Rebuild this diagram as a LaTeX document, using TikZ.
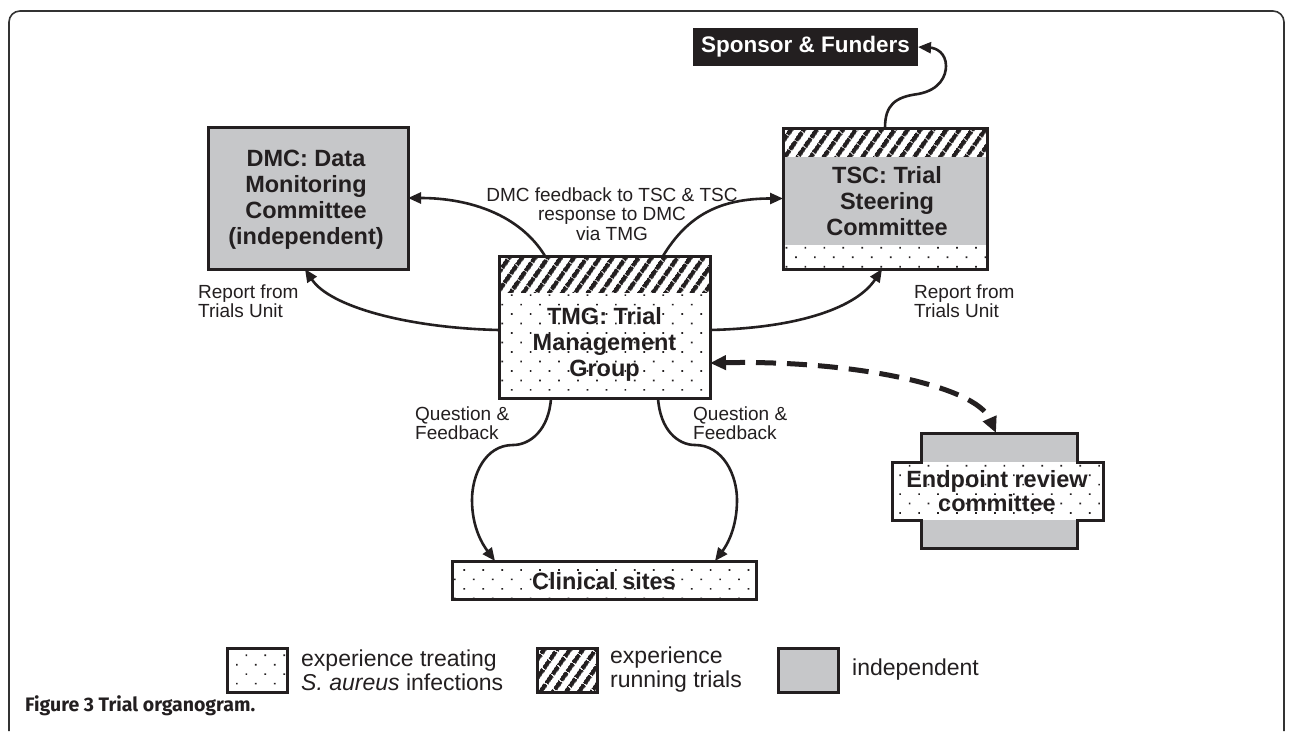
\documentclass[tikz,border=0pt]{standalone}
\usepackage{fontspec}
\setmainfont{Liberation Sans}
\newfontfamily\capfont{Fira Sans}
\usetikzlibrary{patterns.meta,arrows.meta}
\definecolor{ink}{HTML}{231F20}
\definecolor{indep}{HTML}{C6C7C9}
\pgfdeclarelayer{bg}
\pgfsetlayers{bg,main}
\tikzset{
  frame/.style={draw=ink, line width=3pt, outer sep=0pt, inner sep=0pt},
  btext/.style={align=center, inner sep=0pt, text=ink, font=\fontsize{23.5}{26}\selectfont\bfseries},
  lbl/.style={align=left, inner sep=0pt, anchor=west, text=ink, font=\fontsize{19}{19.5}\selectfont},
  clbl/.style={align=center, inner sep=0pt, text=ink, font=\fontsize{19}{19.5}\selectfont},
  legtext/.style={align=left, inner sep=0pt, anchor=west, text=ink, font=\fontsize{23}{24}\selectfont},
  conn/.style={draw=ink, line width=2.6pt, -{Triangle[length=13pt,width=11pt]}},
  dashconn/.style={draw=ink, line width=5pt, dash pattern=on 20pt off 11pt, {Triangle[length=16pt,width=14pt]}-{Triangle[length=16pt,width=14pt]}},
  hatchfill/.style={pattern={Lines[angle=55,distance=10.5pt,line width=4.6pt]}, pattern color=ink},
  dotfill/.style={pattern={Dots[angle=45,distance=13.4pt,radius=1.2pt]}, pattern color=ink},
  indepfill/.style={fill=indep},
}
\begin{document}
\begin{tikzpicture}[x=1pt,y=-1pt]
\useasboundingbox (0,0) rectangle (1292,731);
\begin{pgfonlayer}{bg}
  \fill[white] (0,0) rectangle (1292,731);
  % TSC fills
  \fill[hatchfill] (783,128) rectangle (987,157);
  \fill[indepfill] (783,157) rectangle (987,245);
  \fill[dotfill] (783,245) rectangle (987,269);
  % TMG fills
  \fill[hatchfill] (499,256) rectangle (710,292);
  \fill[dotfill] (499,292) rectangle (710,398);
  % Clinical sites
  \fill[dotfill] (452,561) rectangle (756,599);
  % Endpoint review committee
  \fill[indepfill] (921,433) rectangle (1077,462);
  \fill[indepfill] (921,520) rectangle (1077,548);
  \fill[dotfill] (892,462) rectangle (1103,520);
\end{pgfonlayer}

% outer frame
\draw[line width=1.6pt, draw=black!80, rounded corners=11pt] (9,731) -- (9,11) -- (1284,11) -- (1284,731);

% nodes
\node[frame, fill=indep, minimum width=200pt, minimum height=142pt] (dmc) at (308,198) {};
\node[btext] (dmctext) at (306,200) {DMC: Data\\Monitoring\\Committee\\(independent)};

\node[frame, minimum width=204pt, minimum height=141pt] (tsc) at (885,198.5) {};
\node[btext] (tsctext) at (887,201) {TSC: Trial\\Steering\\Committee};

\node[fill=ink, inner sep=0pt, outer sep=0pt, minimum width=225pt, minimum height=38pt, text=white, font=\fontsize{22.5}{24}\selectfont\bfseries] (sponsor) at (805.5,47) {Sponsor \& Funders};

\node[frame, minimum width=211pt, minimum height=142pt] (tmg) at (604.5,327) {};
\node[btext] (tmgtext) at (604.5,344) {TMG: Trial\\Management\\Group};

\node[frame, minimum width=304pt, minimum height=38pt] (clin) at (604,580) {};
\node[btext] (clintext) at (604,581) {Clinical sites};

\node[inner sep=0pt, outer sep=0pt, minimum width=156pt, minimum height=29pt] (ept) at (999,447.5) {};
\draw[ink, line width=3pt, line join=miter] (921,433) -- (1077,433) -- (1077,462) -- (1103,462) -- (1103,520) -- (1077,520) -- (1077,548) -- (921,548) -- (921,520) -- (892,520) -- (892,462) -- (921,462) -- cycle;
\node[btext, font=\fontsize{23.5}{24}\selectfont\bfseries] (epttext) at (997,491) {Endpoint review\\committee};

% labels
\node[clbl] (fbtext) at (612,214) {DMC feedback to TSC \& TSC\\response to DMC\\via TMG};
\node[lbl] (repl) at (198,301) {Report from\\Trials Unit};
\node[lbl] (repr) at (914,301) {Report from\\Trials Unit};
\node[lbl] (qfl) at (415,423) {Question \&\\Feedback};
\node[lbl] (qfr) at (693,423) {Question \&\\Feedback};

% connectors
\draw[conn] ([xshift=46pt]tmg.north west) .. controls (520,215) and (470,198) .. (dmc.east);
\draw[conn] ([xshift=164pt]tmg.north west) .. controls (688,215) and (720,198.5) .. (tsc.west);
\draw[conn] ([yshift=-74pt]tmg.north west) .. controls (409,328) and (330,307) .. ([xshift=-3pt]dmc.south);
\draw[conn] ([yshift=-74pt]tmg.north east) .. controls (800,328) and (857,307) .. ([xshift=-3pt]tsc.south);
\draw[conn] (tsc.north) .. controls (885,105) and (895,97) .. (918,94) .. controls (940,90) and (946,76) .. (946,66) .. controls (946,53) and (936,48) .. (sponsor.east);
\draw[conn] ([xshift=52pt]tmg.south west) .. controls (549,430) and (530,445) .. (513,445) .. controls (485,445) and (472,475) .. (472,500) .. controls (472,528) and (483,545) .. ([xshift=43pt]clin.north west);
\draw[conn] ([xshift=159pt]tmg.south west) .. controls (660,430) and (678,445) .. (695,445) .. controls (723,445) and (737,475) .. (737,500) .. controls (737,528) and (727,545) .. ([xshift=263pt]clin.north west);
\draw[dashconn] ([yshift=-107pt]tmg.north east) .. controls (850,360) and (975,385) .. ([xshift=-3pt]ept.north);

% legend
\node[frame, dotfill, minimum width=60pt, minimum height=44pt] (leg1) at (257,670) {};
\node[legtext] (leg1t) at (301,670) {experience treating\\\textit{S. aureus} infections};
\node[frame, hatchfill, minimum width=60pt, minimum height=44pt] (leg2) at (567,670) {};
\node[legtext] (leg2t) at (610,670) {experience\\running trials};
\node[frame, fill=indep, minimum width=60pt, minimum height=44pt] (leg3) at (808,670) {};
\node[legtext] (leg3t) at (852,670) {independent};

% caption
\node[anchor=west, inner sep=0pt, text=ink, font=\capfont\fontsize{19.5}{21}\selectfont\bfseries] (caption) at (25,706) {Figure 3 Trial organogram.};
\end{tikzpicture}
\end{document}
